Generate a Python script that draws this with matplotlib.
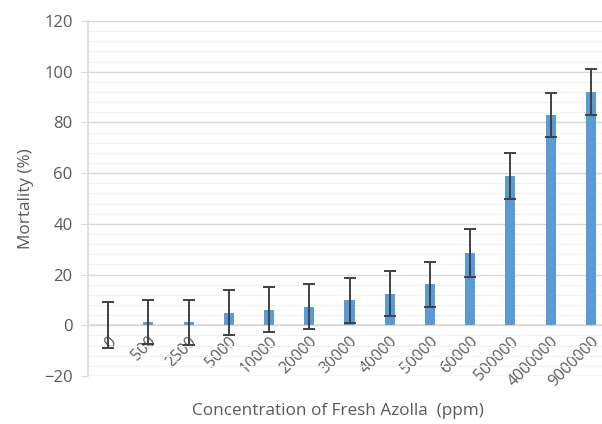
import numpy as np
import matplotlib
matplotlib.use("Agg")
import matplotlib.pyplot as plt
from matplotlib.ticker import MultipleLocator

# -----------------------------------------------------------------------
# DATA
# -----------------------------------------------------------------------
concentrations = ["0", "500", "2500", "5000", "10000", "20000", "30000",
                  "40000", "50000", "60000", "500000", "4000000", "9000000"]
mortality = [0.0, 1.2, 1.2, 5.0, 6.2, 7.4, 9.9, 12.5, 16.1, 28.5, 58.8, 83.0, 92.0]
mortality_err = [9.0, 8.7, 8.8, 9.0, 8.9, 9.0, 8.9, 8.9, 8.9, 9.3, 9.0, 8.8, 9.0]

BAR = "#5b9bd5"
GRID = "#d9d9d9"
MINOR = "#f2f2f2"
TXT = "#595959"
ERR = "#404040"

plt.rcParams["font.family"] = ["Open Sans", "DejaVu Sans"]

fig = plt.figure(figsize=(6.02, 4.24), dpi=100)
ax = fig.add_axes([88 / 602, 48 / 424, 523 / 602, 355 / 424])

x = np.arange(len(concentrations))
ax.bar(x, mortality, width=0.25, color=BAR, zorder=3)
ax.errorbar(x, mortality, yerr=mortality_err, fmt="none", ecolor=ERR,
            elinewidth=1.4, capsize=4, capthick=1.4, zorder=4)

ax.set_xlim(-0.5, len(concentrations) - 0.5)
ax.set_ylim(-20, 120)
ax.yaxis.set_major_locator(MultipleLocator(20))
ax.yaxis.set_minor_locator(MultipleLocator(4))
ax.grid(which="major", axis="y", color=GRID, lw=1.0, zorder=0)
ax.grid(which="minor", axis="y", color=MINOR, lw=0.8, zorder=0)
ax.set_axisbelow(True)

for s in ["top", "right"]:
    ax.spines[s].set_visible(False)
ax.spines["left"].set_color(GRID)
ax.spines["left"].set_linewidth(1.2)
ax.spines["bottom"].set_position(("data", 0))
ax.spines["bottom"].set_color(GRID)
ax.spines["bottom"].set_linewidth(1.2)

ax.set_xticks(x)
ax.set_xticklabels(concentrations, rotation=45, ha="right", va="top",
                   rotation_mode="anchor", color=TXT, fontsize=11.5)
ax.tick_params(axis="x", length=0, pad=6)
ax.tick_params(axis="y", which="major", length=5, color=GRID,
               labelcolor=TXT, labelsize=12, pad=6)
ax.tick_params(axis="y", which="minor", length=0)

ax.set_ylabel("Mortality (%)", color=TXT, fontsize=12.3, labelpad=7)
fig.text(338 / 602, 1 - 411 / 424, "Concentration of Fresh Azolla  (ppm)",
         color=TXT, fontsize=12.3, ha="center", va="center")

fig.savefig("out.png", dpi=100)
